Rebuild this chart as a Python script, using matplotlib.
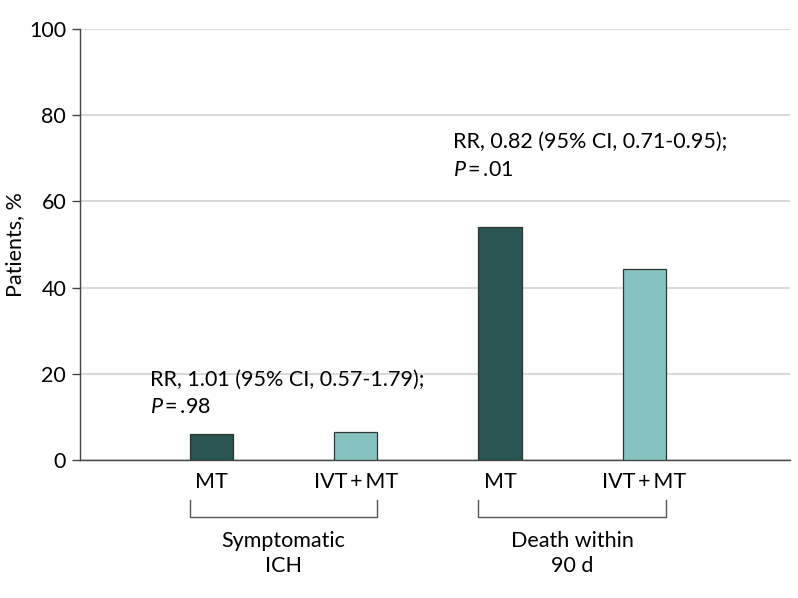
import matplotlib
matplotlib.use("Agg")
import matplotlib.pyplot as plt
import numpy as np

plt.rcParams['font.family'] = ['Lato', 'DejaVu Sans']
plt.rcParams['mathtext.fontset'] = 'custom'
plt.rcParams['mathtext.it'] = 'Lato:italic'

bar_labels = ["MT", "IVT\u2009+\u2009MT", "MT", "IVT\u2009+\u2009MT"]
values = [6.0, 6.5, 54.1, 44.3]
groups = ["Symptomatic\nICH", "Death within\n90 d"]
notes = ["RR, 1.01 (95% CI, 0.57-1.79);", "RR, 0.82 (95% CI, 0.71-0.95);"]
p_values = [".98", ".01"]
note_x = [-0.426, 1.675]
note_y = [18.6, 73.8]

dark = "#2b5553"
light = "#86c3c0"
colors = [dark, light, dark, light]
fs = 15.5

fig = plt.figure(figsize=(7.98, 5.98), dpi=100)
ax = fig.add_axes([0.1003, 0.2308, 0.8897, 0.7207])

x = np.arange(len(values))
width = 0.3
ax.bar(x, values, width, color=colors, edgecolor="#333333", linewidth=0.9, zorder=3)

ax.set_xlim(-0.912, 4.01)
ax.set_ylim(0, 100)
ax.set_yticks(range(0, 101, 20))
ax.yaxis.grid(True, color="#d9d9d9", linewidth=1.5, zorder=0)
ax.set_xticks(x)
ax.set_xticklabels(bar_labels, fontsize=fs)
ax.tick_params(axis="x", length=0, pad=9)
ax.tick_params(axis="y", labelsize=fs, length=6, width=1, color="#444444", pad=4)
for s in ["top", "right"]:
    ax.spines[s].set_visible(False)
for s in ["left", "bottom"]:
    ax.spines[s].set_color("#444444")
    ax.spines[s].set_linewidth(1)
ax.set_ylabel("Patients, %", fontsize=fs, va="center")
ax.yaxis.set_label_coords(-0.091, 0.5)

trans = ax.get_xaxis_transform()
for i, g in enumerate(groups):
    x0 = x[2 * i] - width / 2
    x1 = x[2 * i + 1] + width / 2
    ax.plot([x0, x0, x1, x1], [-0.093, -0.132, -0.132, -0.093], transform=trans,
            color="#555555", linewidth=1, clip_on=False)
    ax.text((x0 + x1) / 2, -0.165, g, transform=trans, ha="center", va="top",
            fontsize=fs, linespacing=1.3)

for i, rr in enumerate(notes):
    ax.text(note_x[i], note_y[i], rr, fontsize=fs, ha="left", va="center")
    ax.text(note_x[i], note_y[i] - 6.4, r"$P$" + "\u2009=\u2009" + p_values[i],
            fontsize=fs, ha="left", va="center")

fig.savefig("out.png", dpi=100)
